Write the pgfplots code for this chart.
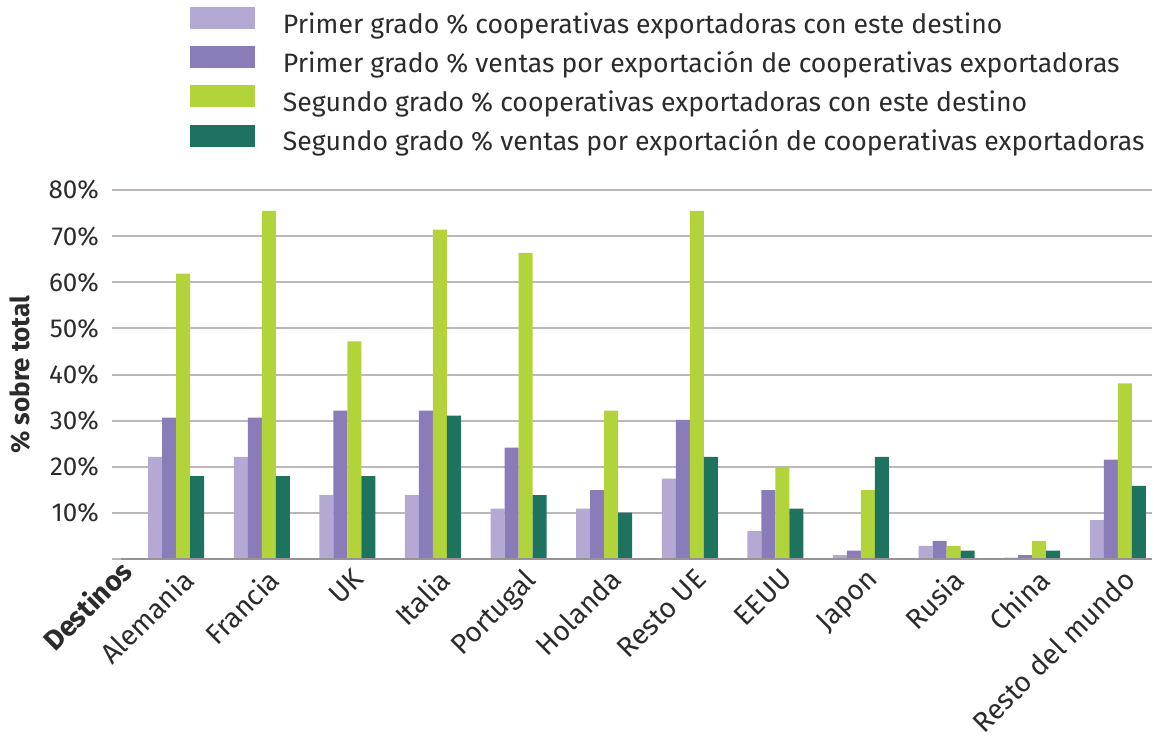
\documentclass[border=0pt]{standalone}
\usepackage{pgfplots}
\pgfplotsset{compat=1.18}
\usepackage{pgfplotstable}
\usepackage{fontspec}
\setmainfont{Fira Sans}
\definecolor{cA}{HTML}{B5A8D2}
\definecolor{cB}{HTML}{8A7BB9}
\definecolor{cC}{HTML}{B3D33A}
\definecolor{cD}{HTML}{1D735E}
\definecolor{gridc}{HTML}{BDB7BA}
\definecolor{txt}{HTML}{2B2B2B}

\pgfplotstableread{
x a b c d
0 22.2 30.7 61.9 18.0
1 22.2 30.7 75.5 18.0
2 13.9 32.2 47.2 18.0
3 13.9 32.2 71.4 31.1
4 11.0 24.2 66.4 13.9
5 11.0 15.0 32.2 10.1
6 17.5 30.2 75.5 22.2
7 6.1 15.0 19.8 11.0
8 0.9 1.9 15.0 22.2
9 2.9 4.0 2.9 1.9
10 0.35 0.9 4.0 1.9
11 8.5 21.6 38.1 15.9
}\data

\pgfplotsset{sqleg/.style={legend image code/.code={\fill[##1] (0pt,-1.2pt) rectangle (32.5pt,9.8pt);}}}

\begin{document}
\begin{tikzpicture}
\path[use as bounding box] (0,0) rectangle (577pt,368.5pt);
\begin{axis}[
  at={(56pt,88.85pt)}, anchor=south west,
  scale only axis, width=520pt, height=184.65pt,
  xmin=-0.75, xmax=11.4, ymin=0, ymax=80,
  clip=false,
  ybar=0pt, bar width=7pt,
  axis line style={draw=none},
  major tick length=0pt,
  ytick={0,10,...,80},
  yticklabels={,10\%,20\%,30\%,40\%,50\%,60\%,70\%,80\%},
  yticklabel style={font=\fontsize{13pt}{15pt}\selectfont, text=txt, xshift=-3pt},
  ymajorgrids, grid style={gridc, line width=1pt},
  xtick={0,...,11},
  xticklabels={Alemania, Francia, UK, Italia, Portugal, Holanda, Resto UE, EEUU, Japon, Rusia, China, Resto del mundo},
  xticklabel style={rotate=45, anchor=north east, inner sep=0pt, xshift=-1pt, yshift=-4pt, font=\fontsize{14pt}{15pt}\selectfont, text=txt},
  ylabel={\% sobre total},
  ylabel style={at={(axis description cs:-0.0885,0.5)}, anchor=center, font=\bfseries\fontsize{13pt}{15pt}\selectfont, text=txt},
  legend style={at={(0.075,1.495)}, anchor=north west, draw=none, fill=none, inner sep=0pt, outer sep=0pt,
    font=\fontsize{13.3pt}{15pt}\selectfont, text=txt, row sep=3.5pt,
    nodes={inner sep=0pt, text height=9.5pt, text depth=3pt},
    /tikz/every odd column/.style={column sep=14pt}},
  legend cell align=left,
]
\addplot[fill=cA, draw=none, sqleg] table[x=x,y=a]{\data};
\addplot[fill=cB, draw=none, sqleg] table[x=x,y=b]{\data};
\addplot[fill=cC, draw=none, sqleg] table[x=x,y=c]{\data};
\addplot[fill=cD, draw=none, sqleg] table[x=x,y=d]{\data};
\legend{Primer grado \% cooperativas exportadoras con este destino,
Primer grado \% ventas por exportación de cooperativas exportadoras,
Segundo grado \% cooperativas exportadoras con este destino,
Segundo grado \% ventas por exportación de cooperativas exportadoras}
\draw[gridc!80!black, line width=1pt] (axis cs:-0.65,0) -- (axis cs:11.4,0);
\node[rotate=45, anchor=north east, inner sep=0pt, font=\bfseries\fontsize{14pt}{15pt}\selectfont, text=txt] at (axis description cs:0.006,0.006) {Destinos};
\end{axis}
\end{tikzpicture}
\end{document}
